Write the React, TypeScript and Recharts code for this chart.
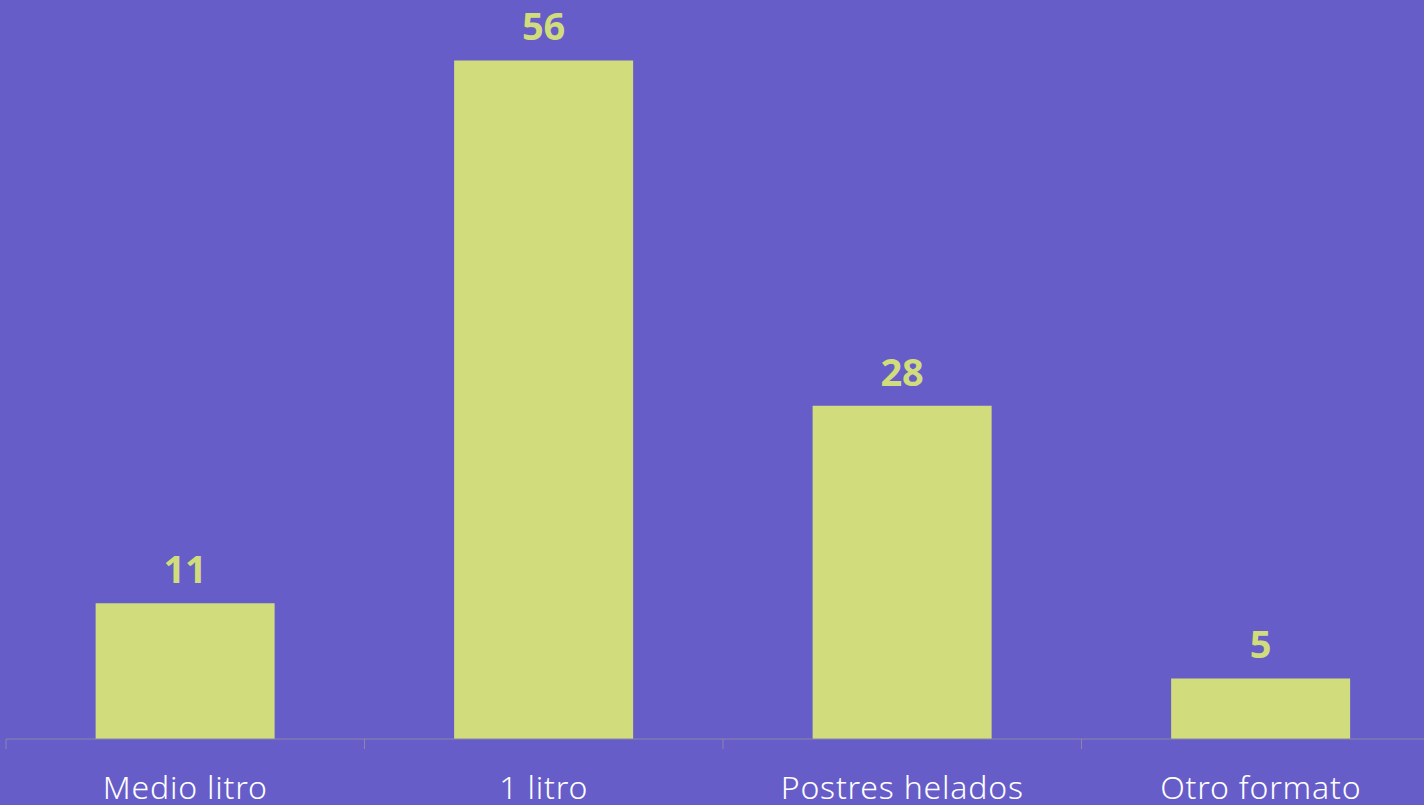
import React from 'react';
import { BarChart, Bar, XAxis, YAxis, LabelList } from 'recharts';

const categories = ['Medio litro', '1 litro', 'Postres helados', 'Otro formato'];
const values = [11.2, 56, 27.5, 5];

const data = categories.map((name, i) => ({ name, value: values[i] }));

const BG = '#665dc9';
const BAR = '#d1dc7d';
const AXIS = '#8a87a8';
const TICK_SIZE = 10;
const TICK_MARGIN = 27;

// label under each bar, plus a tick mark on the left edge of its band
const CategoryTick = (props: any) => {
  const { x, y, payload } = props;
  const half = payload.offset || 0;
  const lineY = y - TICK_MARGIN - TICK_SIZE;
  return (
    <g>
      <line x1={x - half} x2={x - half} y1={lineY} y2={lineY + TICK_SIZE} stroke={AXIS} />
      <text
        x={x}
        y={y}
        dy="0.71em"
        textAnchor="middle"
        fill="#ffffff"
        fontSize={32}
        fontWeight={300}
        letterSpacing={0.8}
      >
        {payload.value}
      </text>
    </g>
  );
};

export default function App() {
  return (
    <div
      style={{
        position: 'absolute',
        top: 0,
        left: 0,
        width: 1424,
        height: 805,
        overflow: 'hidden',
        background: BG,
        fontFamily: '"Noto Sans", sans-serif',
      }}
    >
      <BarChart
        width={1440}
        height={805}
        data={data}
        margin={{ top: 12, right: 0, bottom: 0, left: 6 }}
        barCategoryGap="25%"
      >
        <XAxis
          dataKey="name"
          height={66}
          stroke={AXIS}
          tickLine={false}
          tickSize={TICK_SIZE}
          tickMargin={TICK_MARGIN}
          interval={0}
          tick={<CategoryTick />}
        />
        <YAxis hide domain={[0, 60]} />
        <Bar dataKey="value" fill={BAR} isAnimationActive={false}>
          <LabelList
            dataKey="value"
            position="top"
            offset={20}
            formatter={(v: number) => Math.round(v)}
            style={{ fill: BAR, fontSize: 38, fontWeight: 700 }}
          />
        </Bar>
      </BarChart>
    </div>
  );
}
